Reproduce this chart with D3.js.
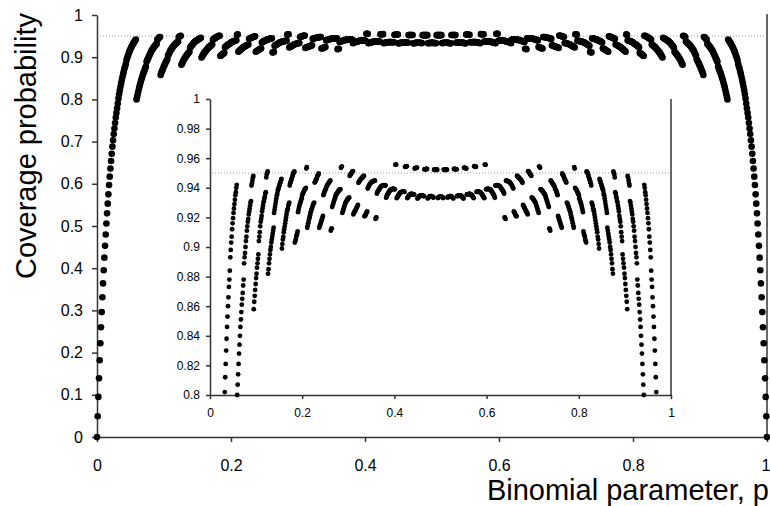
<!DOCTYPE html>
<html><head><meta charset="utf-8">
<script src="https://cdn.jsdelivr.net/npm/d3@7"></script>
<style>
body{margin:0;background:#fff}
svg{display:block}
text{font-family:Arial,"Liberation Sans",sans-serif;fill:#000}
</style>
</head><body><svg id="chart" width="770" height="506"></svg>
<script>
// Grid spacing of the binomial parameter p
const pStep = 0.001;
// Coverage, p = 0, 0.001, ..., 0.500 (from the left edge)
const coverageFromLeft = [
0,.049,.095,.139,.182,.222,.260,.296,.331,.364,.395,.425,.453,.480,.506,.530,.553,.575,.597,.617,
.636,.654,.671,.688,.703,.718,.731,.744,.757,.768,.779,.790,.802,.812,.821,.830,.838,.846,.853,.860,
.866,.873,.878,.884,.893,.898,.903,.907,.912,.916,.9195,.923,.926,.929,.932,.935,.937,.940,.942,
.800,.807,.814,.821,.828,.834,.840,.846,.851,.856,.861,.865,.869,.874,.878,
.889,.893,.896,.900,.904,.907,.911,.914,.917,.919,.922,.924,.926,.928,.930,.931,
.9415,.943,.945,.947,.948,
.858,.863,.867,.871,.875,.879,.882,.886,.889,.892,.895,
.904,.907,.910,.914,.917,.919,.921,.924,.926,.928,.930,.931,.933,.934,.936,.937,
.947,.949,.950,.951,
.882,.885,.889,.892,.895,.898,.900,.903,.905,.907,.909,.911,.913,
.923,.925,.927,.929,.931,.933,.935,.936,.938,.939,.940,.941,.942,.943,.944,.945,.946,
.899,.902,.905,.907,.910,.912,.914,.916,.918,.920,.922,.924,.925,.926,.928,.929,.930,
.9415,.943,.944,.945,.946,.947,.948,.949,.950,.9505,.951,
.903,.904,.905,.907,.908,.909,.9105,
.9235,.925,.9265,.928,.929,.930,.931,.932,.933,.935,.936,.9365,.937,.938,.9385,.939,.9395,.940,
.953,.954,
.913,.9145,.916,.9175,.919,.920,.9215,.923,.924,.925,.926,.927,.928,.929,.9295,.930,
.9435,.944,.945,.9455,.946,.947,.948,.9485,.949,.9497,
.913,.914,.915,.916,.917,.918,.919,.920,.921,
.935,.936,.937,.938,.9385,.939,.940,.941,.9415,.942,.9425,.943,.9435,.944,.9445,.945,
.911,.912,.9126,
.927,.928,.929,.930,.931,.932,.933,.934,.935,.9357,.936,.9365,.937,.9375,.938,.938,.9385,.939,.939,
.9535,.954,.9545,
.923,.924,.925,.926,.927,.928,.929,.930,.9305,.931,.9315,.932,.9325,.933,.933,.9335,
.948,.9485,.949,.9495,.950,.9505,.951,.9512,
.922,.923,.9235,.924,.9245,.925,.926,.9265,.927,.928,.9284,
.9434,.944,.9445,.945,.9455,.946,.946,.9465,.947,.947,.9475,.948,.948,
.9207,.921,.9215,.922,.923,.9235,.924,
.9395,.940,.941,.9415,.942,.9425,.943,.9435,.9437,.944,.944,.9445,.9445,.9445,.9447,.9448,.9448,
.919,.9198,.920,
.936,.937,.9375,.938,.9385,.939,.9395,.940,.9405,.941,.941,.9413,.9415,.9415,.9417,.9418,.9418,.9417,.9416,.9415,
.9332,.934,.935,.9355,.936,.9365,.937,.9375,.938,.9384,.9387,.939,.939,.9392,.9393,.9393,.9393,.9392,.9391,.939,
.9555,.9556,.9557,
.933,.9335,.934,.9345,.935,.9355,.936,.9365,.9368,.937,.937,.9372,.9373,.9374,.9374,.9374,.9373,.9372,
.9542,.9543,.9544,.9545,.9546,
.933,.9335,.934,.9345,.935,.935,.9355,.9357,.9358,.9358,.9358,.9357,.9357,.9356,.9355,.9354,
.9530,.9532,.9533,.9534,.9535,.9536,
.9327,.933,.9335,.934,.934,.9345,.9347,.9348,.9348,.9348,.9348,.9347,.9346,.9345,.9343,
.9524,.9525,.9526,.9526,.9527,.9527,.9527,
.9328,.9331,.9334,.9337,.934,.9342,.9343,.9343,.9343,.9342,.934,.9338,.9336,.9334,
.9522,.9522,.9522,.9522,.9522,.9522,.9522,.9522,
.9331,.9334,.9336,.9338,.9339,.934,.934
];
const coverageFromRight = [
0,.049,.095,.139,.182,.222,.260,.296,.331,.364,.395,.425,.453,.480,.506,.530,.553,.575,.597,.617,
.636,.654,.671,.688,.703,.718,.731,.744,.757,.768,.779,.790,.802,.812,.821,.830,.838,.846,.853,.860,
.866,.873,.878,.884,.893,.898,.903,.907,.912,.916,.9195,.923,.926,.929,.932,.935,.937,.940,.942,
.800,.807,.814,.821,.828,.834,.840,.846,.851,.856,.861,.865,.869,.874,.878,
.889,.893,.896,.900,.904,.907,.911,.914,.917,.919,.922,.924,.926,.928,.930,.931,
.9415,.943,.945,.947,.948,
.858,.863,.867,.871,.875,.879,.882,.886,.889,.892,.895,
.904,.907,.910,.914,.917,.919,.921,.924,.926,.928,.930,.931,.933,.934,.936,.937,
.947,.949,.950,.951,
.882,.885,.889,.892,.895,.898,.900,.903,.905,.907,.909,.911,.913,
.923,.925,.927,.929,.931,.933,.935,.936,.938,.939,.940,.941,.942,.943,.944,.945,.946,
.899,.902,.905,.907,.910,.912,.914,.916,.918,.920,.922,.924,.925,.926,.928,.929,.930,
.9415,.943,.944,.945,.946,.947,.948,.949,.950,.9505,.951,
.903,.904,.905,.907,.908,.909,.9105,
.9235,.925,.9265,.928,.929,.930,.931,.932,.933,.935,.936,.9365,.937,.938,.9385,.939,.9395,.940,
.953,.954,
.913,.9145,.916,.9175,.919,.920,.9215,.923,.924,.925,.926,.927,.928,.929,.9295,.930,
.9435,.944,.945,.9455,.946,.947,.948,.9485,.949,.9497,
.913,.914,.915,.916,.917,.918,.919,.920,.921,
.935,.936,.937,.938,.9385,.939,.940,.941,.9415,.942,.9425,.943,.9435,.944,.9445,.945,
.911,.912,.9126,
.927,.928,.929,.930,.931,.932,.933,.934,.935,.9357,.936,.9365,.937,.9375,.938,.938,.9385,.939,.939,
.9535,.954,.9545,
.923,.924,.925,.926,.927,.928,.929,.930,.9305,.931,.9315,.932,.9325,.933,.933,.9335,
.948,.9485,.949,.9495,.950,.9505,.951,.9512,
.922,.923,.9235,.924,.9245,.925,.926,.9265,.927,.928,.9284,
.9434,.944,.9445,.945,.9455,.946,.946,.9465,.947,.947,.9475,.948,.948,
.9207,.921,.9215,.922,.923,.9235,.924,
.9395,.940,.941,.9415,.942,.9425,.943,.9435,.9437,.944,.944,.9445,.9445,.9445,.9447,.9448,.9448,
.919,.9198,.920,
.936,.937,.9375,.938,.9385,.939,.9395,.940,.9405,.941,.941,.9413,.9415,.9415,.9417,.9418,.9418,.9417,.9416,.9415,
.9332,.934,.935,.9355,.936,.9365,.937,.9375,.938,.9384,.9387,.939,.939,.9392,.9393,.9393,.9393,.9392,.9391,.939,
.9555,.9556,.9557,
.933,.9335,.934,.9345,.935,.9355,.936,.9365,.9368,.937,.937,.9372,.9373,.9374,.9374,.9374,.9373,.9372,
.9542,.9543,.9544,.9545,.9546,
.933,.9335,.934,.9345,.935,.935,.9355,.9357,.9358,.9358,.9358,.9357,.9357,.9356,.9355,.9354,
.9530,.9532,.9533,.9534,.9535,.9536,
.9327,.933,.9335,.934,.934,.9345,.9347,.9348,.9348,.9348,.9348,.9347,.9346,.9345,.9343,
.9524,.9525,.9526,.9526,.9527,.9527,.9527,
.9328,.9331,.9334,.9337,.934,.9342,.9343,.9343,.9343,.9342,.934,.9338,.9336,.9334,
.9522,.9522,.9522,.9522,.9522,.9522,.9522,.9522,
.9331,.9334,.9336,.9338,.9339,.934
];
const nominalLevel = 0.95;
const mainYTicks = [0, 0.1, 0.2, 0.3, 0.4, 0.5, 0.6, 0.7, 0.8, 0.9, 1];
const mainXTicks = [0, 0.2, 0.4, 0.6, 0.8, 1];
const insetYTicks = [0.8, 0.82, 0.84, 0.86, 0.88, 0.9, 0.92, 0.94, 0.96, 0.98, 1];
const insetXTicks = [0, 0.2, 0.4, 0.6, 0.8, 1];
const xTitle = "Binomial parameter, p";
const yTitle = "Coverage probability";

const points = coverageFromLeft.map((c, i) => ({p: +(i * pStep).toFixed(3), c}))
  .concat(coverageFromRight.map((c, i) => ({p: +(1 - i * pStep).toFixed(3), c})));

const svg = d3.select("#chart");
const axisColor = "#333";

// ---------- main chart ----------
const x = d3.scaleLinear().domain([0, 1]).range([97, 767]);
const y = d3.scaleLinear().domain([0, 1]).range([437, 15]);

svg.append("line").attr("x1", x(0) + 3).attr("x2", x(1)).attr("y1", y(nominalLevel)).attr("y2", y(nominalLevel))
  .attr("stroke", "#9a9a9a").attr("stroke-width", 1).attr("stroke-dasharray", "1,2");
svg.append("line").attr("x1", x(1)).attr("x2", x(1)).attr("y1", y(1) - 1).attr("y2", y(0))
  .attr("stroke", axisColor).attr("stroke-width", 1.5);

const fmt = d => String(d);
const gy = svg.append("g").attr("transform", `translate(${x(0)},0)`)
  .call(d3.axisLeft(y).tickValues(mainYTicks).tickFormat(fmt).tickSize(5).tickPadding(9).tickSizeOuter(0));
const gx = svg.append("g").attr("transform", `translate(0,${y(0)})`)
  .call(d3.axisBottom(x).tickValues(mainXTicks).tickFormat(fmt).tickSize(5).tickPadding(17.5).tickSizeOuter(0));
[gx, gy].forEach(g => {
  g.selectAll("path,line").attr("stroke", axisColor).attr("stroke-width", 1.5);
  g.selectAll("text").style("font-size", "16px").attr("fill", "#000");
});
// keep the last x label inside the picture
gx.selectAll(".tick text").filter(d => d === 1).attr("text-anchor", "end").attr("x", 3);

svg.append("g").selectAll("circle").data(points).join("circle")
  .attr("cx", d => x(d.p)).attr("cy", d => y(d.c)).attr("r", 3.3).attr("fill", "#000");

svg.append("text").attr("x", 769).attr("y", 500).attr("text-anchor", "end").style("font-size", "29px").text(xTitle);
svg.append("text").attr("transform", "translate(36,146) rotate(-90)").attr("text-anchor", "middle")
  .style("font-size", "29px").text(yTitle);

// ---------- inset chart ----------
const xi = d3.scaleLinear().domain([0, 1]).range([210, 671]);
const yi = d3.scaleLinear().domain([0.8, 1]).range([395, 99]);
const inset = svg.append("g");
inset.append("line").attr("x1", xi(0) + 2).attr("x2", xi(1)).attr("y1", yi(nominalLevel)).attr("y2", yi(nominalLevel))
  .attr("stroke", "#9a9a9a").attr("stroke-width", 1).attr("stroke-dasharray", "1,2");
inset.append("line").attr("x1", xi(1)).attr("x2", xi(1)).attr("y1", yi(1)).attr("y2", yi(0.8))
  .attr("stroke", axisColor).attr("stroke-width", 1.5);
const iy = inset.append("g").attr("transform", `translate(${xi(0)},0)`)
  .call(d3.axisLeft(yi).tickValues(insetYTicks).tickFormat(fmt).tickSize(4).tickPadding(6).tickSizeOuter(0));
const ix = inset.append("g").attr("transform", `translate(0,${yi(0.8)})`)
  .call(d3.axisBottom(xi).tickValues(insetXTicks).tickFormat(fmt).tickSize(4).tickPadding(9.5).tickSizeOuter(0));
[ix, iy].forEach(g => {
  g.selectAll("path,line").attr("stroke", axisColor).attr("stroke-width", 1.5);
  g.selectAll("text").style("font-size", "12px").attr("fill", "#000");
});
inset.append("g").selectAll("circle").data(points.filter(d => d.c >= 0.8)).join("circle")
  .attr("cx", d => xi(d.p)).attr("cy", d => yi(d.c)).attr("r", 2.4).attr("fill", "#000");
</script>
</body></html>
